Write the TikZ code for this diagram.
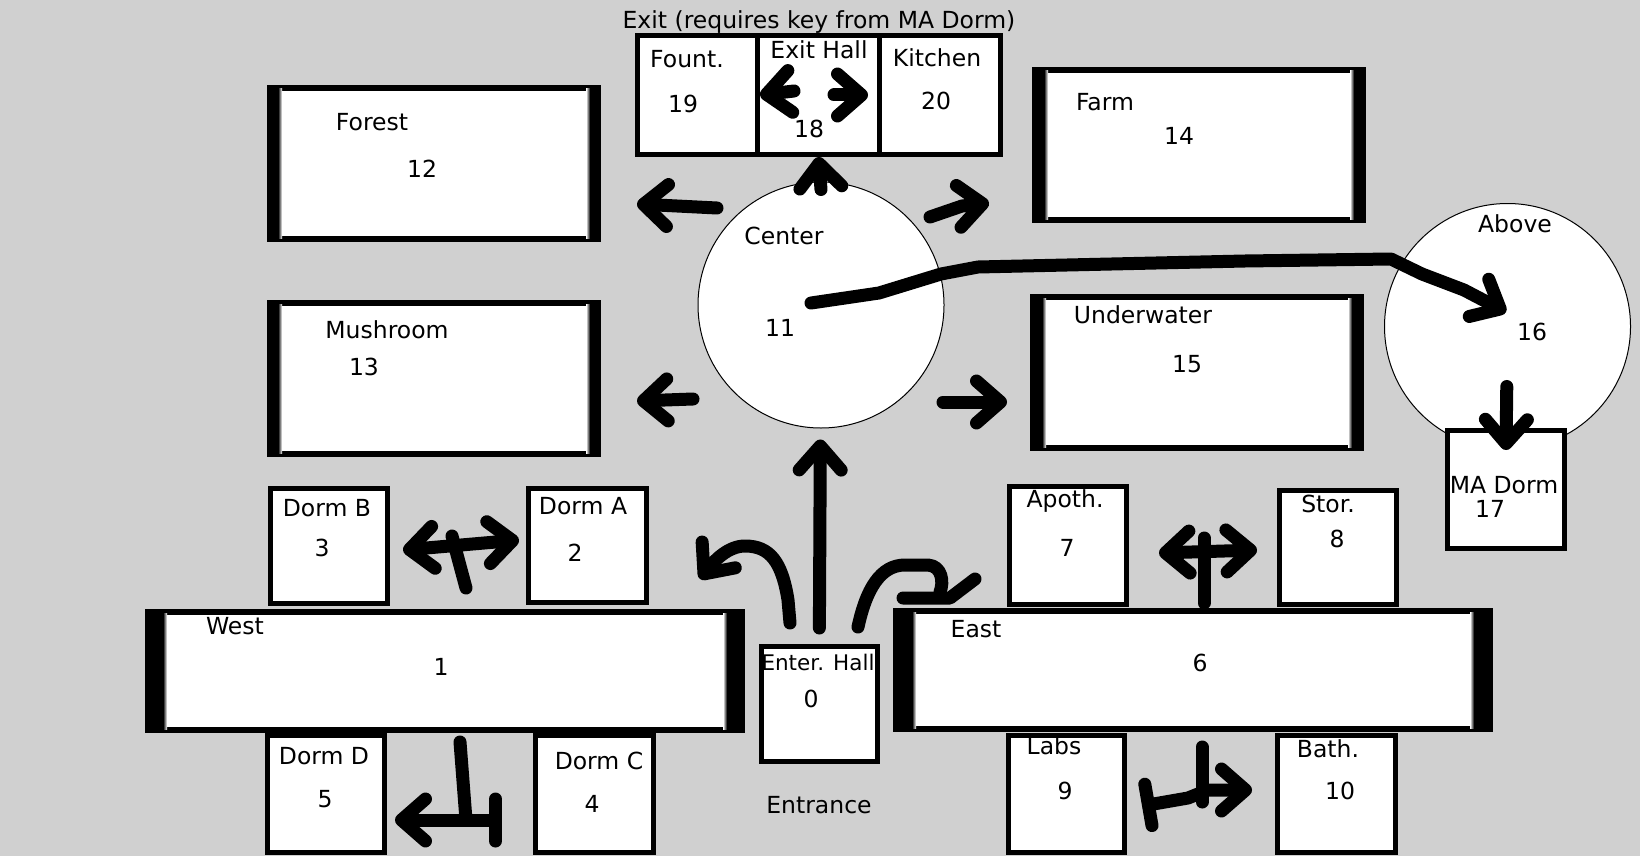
\documentclass[tikz,border=0pt]{standalone}
\usepackage{fontspec}
\setmainfont{DejaVu Sans}
\usetikzlibrary{arrows.meta}

\definecolor{floorgray}{RGB}{208,208,208}

\begin{document}
\begin{tikzpicture}[
    x=1pt, y=-1pt,
    room/.style={draw, rectangle, line width=5pt, fill=white, inner sep=0pt},
    hall/.style={draw, rectangle, line width=6pt, fill=white, inner sep=0pt},
    area/.style={draw, circle, line width=1pt, fill=white, inner sep=0pt, minimum size=246pt},
    lbl/.style={inner sep=0pt, anchor=base, font=\fontsize{23.5}{28}\selectfont},
    scrawl/.style={line width=13pt, line cap=round, line join=round},
    pointer/.style={scrawl, ->, >={Straight Barb[length=24pt, width=42pt, line cap=round, line join=round]}},
    dpointer/.style={pointer, <->},
    barend/.style={scrawl, >={Straight Barb[length=24pt, width=42pt, line cap=round, line join=round]}}
]
    \useasboundingbox (0,0) rectangle (1640,856);
    \fill[floorgray] (0,0) rectangle (1640,856);

    % Exit wing
    \node[room, minimum width=120pt, minimum height=119pt] (r19) at (697.5,95) {};
    \node[room, minimum width=122pt, minimum height=119pt] (r18) at (818.5,95) {};
    \node[room, minimum width=121pt, minimum height=119pt] (r20) at (940,95) {};

    % Halls
    \node[hall, minimum width=328pt, minimum height=151pt] (r12) at (434,163.5) {};
    \node[hall, minimum width=328pt, minimum height=151pt] (r13) at (434,378.5) {};
    \node[hall, minimum width=328pt, minimum height=150pt] (r14) at (1199,145) {};
    \node[hall, minimum width=328pt, minimum height=151pt] (r15) at (1197,372.5) {};
    \node[hall, minimum width=594pt, minimum height=118pt] (r1) at (445,671) {};
    \node[hall, minimum width=594pt, minimum height=118pt] (r6) at (1193,670) {};

    % thick side walls of the halls
    \foreach \r/\w/\g in {r12/11/15, r13/11/15, r14/12/16, r15/12/16, r1/18/22, r6/19/23}{
        \fill (\r.north west) rectangle ([xshift=\w pt]\r.south west);
        \fill (\r.north east) rectangle ([xshift=-\w pt]\r.south east);
        \shade[left color=black, right color=white] ([xshift=\w pt, yshift=-4pt]\r.north west) rectangle ([xshift=\g pt, yshift=4pt]\r.south west);
        \shade[left color=white, right color=black] ([xshift=-\g pt, yshift=-4pt]\r.north east) rectangle ([xshift=-\w pt, yshift=4pt]\r.south east);
    }

    % Dorms and side rooms
    \node[room, minimum width=117pt, minimum height=115pt] (r3) at (329,546) {};
    \node[room, minimum width=118pt, minimum height=114pt] (r2) at (587.5,545.5) {};
    \node[room, minimum width=117pt, minimum height=117pt] (r5) at (326,794) {};
    \node[room, minimum width=118pt, minimum height=117pt] (r4) at (594.5,794) {};
    \node[room, minimum width=116pt, minimum height=115pt] (r0) at (819,704) {};
    \node[room, minimum width=117pt, minimum height=118pt] (r7) at (1068,545.5) {};
    \node[room, minimum width=117pt, minimum height=114pt] (r8) at (1338,547.5) {};
    \node[room, minimum width=116pt, minimum height=117pt] (r9) at (1066.5,794) {};
    \node[room, minimum width=118pt, minimum height=117pt] (r10) at (1336.5,794) {};

    % Center and Above
    \node[area] (r11) at (821,305) {};
    \node[area] (r16) at (1507.5,326.5) {};
    \node[room, minimum width=117pt, minimum height=118pt] (r17) at (1506,489.5) {};

    % Labels
    \node[lbl] (exit) at (819,29) {Exit (requires key from MA Dorm)};
    \node[lbl] (l19) at (687,68) {Fount.};
    \node[lbl] (n19) at (683,113) {19};
    \node[lbl] (l18) at (819,59) {Exit Hall};
    \node[lbl] (n18) at (809,138) {18};
    \node[lbl] (l20) at (937,67) {Kitchen};
    \node[lbl] (n20) at (936,110) {20};
    \node[lbl] (l12) at (372,131) {Forest};
    \node[lbl] (n12) at (422,177) {12};
    \node[lbl] (l13) at (387,338) {Mushroom};
    \node[lbl] (n13) at (364,375) {13};
    \node[lbl] (l14) at (1105,111) {Farm};
    \node[lbl] (n14) at (1179,145) {14};
    \node[lbl] (l15) at (1143,323) {Underwater};
    \node[lbl] (n15) at (1187,372) {15};
    \node[lbl] (l11) at (784,244) {Center};
    \node[lbl] (n11) at (780,336) {11};
    \node[lbl] (l16) at (1515,232) {Above};
    \node[lbl] (n16) at (1532,340) {16};
    \node[lbl] (l17) at (1504,493) {MA Dorm};
    \node[lbl] (n17) at (1490,517) {17};
    \node[lbl] (l1) at (235,634) {West};
    \node[lbl] (n1) at (441,675) {1};
    \node[lbl] (l3) at (327,516) {Dorm B};
    \node[lbl] (n3) at (322,556) {3};
    \node[lbl] (l2) at (583,514) {Dorm A};
    \node[lbl] (n2) at (575,561) {2};
    \node[lbl] (l5) at (324,764) {Dorm D};
    \node[lbl] (n5) at (325,807) {5};
    \node[lbl] (l4) at (599,769) {Dorm C};
    \node[lbl] (n4) at (592,812) {4};
    \node[lbl] (l6) at (976,637) {East};
    \node[lbl] (n6) at (1200,671) {6};
    \node[lbl] (l7) at (1065,507) {Apoth.};
    \node[lbl] (n7) at (1067,556) {7};
    \node[lbl] (l8) at (1328,512) {Stor.};
    \node[lbl] (n8) at (1337,547) {8};
    \node[lbl] (l9) at (1054,754) {Labs};
    \node[lbl] (n9) at (1065,799) {9};
    \node[lbl] (l10) at (1328,757) {Bath.};
    \node[lbl] (n10) at (1340,799) {10};
    \node[lbl, font=\fontsize{21.5}{26}\selectfont] (l0) at (818,670) {Enter. Hall};
    \node[lbl] (n0) at (811,707) {0};
    \node[lbl] (entrance) at (819,813) {Entrance};

    % Ways out of the Center
    \draw[pointer] (717,208) -- (637,204);
    \draw[pointer] (693,399) -- (637,401);
    \draw[pointer] (943,402) -- (1007,402);
    \draw[pointer] (930,217) -- (962,206) -- (989,203);
    \draw[pointer] ([yshift=-8pt]r11.north) -- (r18.south);
    \draw[pointer] (794,91) -- (r19.east);
    \draw[pointer, shorten >=9pt] (834,95) -- (r20.west);

    % Center to Above to MA Dorm
    \draw[pointer] (811,303) -- (879,293) -- (941,274) -- (978,267) -- (1245,261) -- (1391,259)
        -- (1422,274) -- (1464,290) -- (1506,312);
    \draw[pointer, shorten <=60pt] (r16.center) -- ([yshift=-22pt]r17.north);

    % From the Entrance
    \draw[pointer, shorten <=16pt, shorten >=11pt] (r0) -- (r11);
    \draw[pointer] (790,623) -- (788,600) .. controls (782,562) and (770,546) .. (745,546)
        .. controls (728,546) and (714,561) .. (700,579);
    \draw[scrawl] (858,627) .. controls (866,590) and (880,565) .. (905,565) -- (928,565)
        .. controls (942,566) and (944,582) .. (940,592);
    \draw[scrawl] (903,598) -- (950,598) -- (975,579);

    % West wing
    \draw[dpointer] (403,550) -- (519,540);
    \draw[scrawl] (452,536) -- (466,588);
    \draw[barend, <-{Bar[width=42pt, line cap=round]}] (395,820) -- (502,820);
    \draw[scrawl] (460,742) -- (466,820);

    % East wing
    \draw[dpointer] (1159,553) -- (1257,550);
    \draw[scrawl] (1204,538) -- (1204,603);
    \draw[barend, {Bar[width=42pt, line cap=round]}->] (1142,806) -- (1188,798) -- (1208,790) -- (1252,790);
    \draw[scrawl] (1202,747) -- (1202,802);
\end{tikzpicture}
\end{document}
